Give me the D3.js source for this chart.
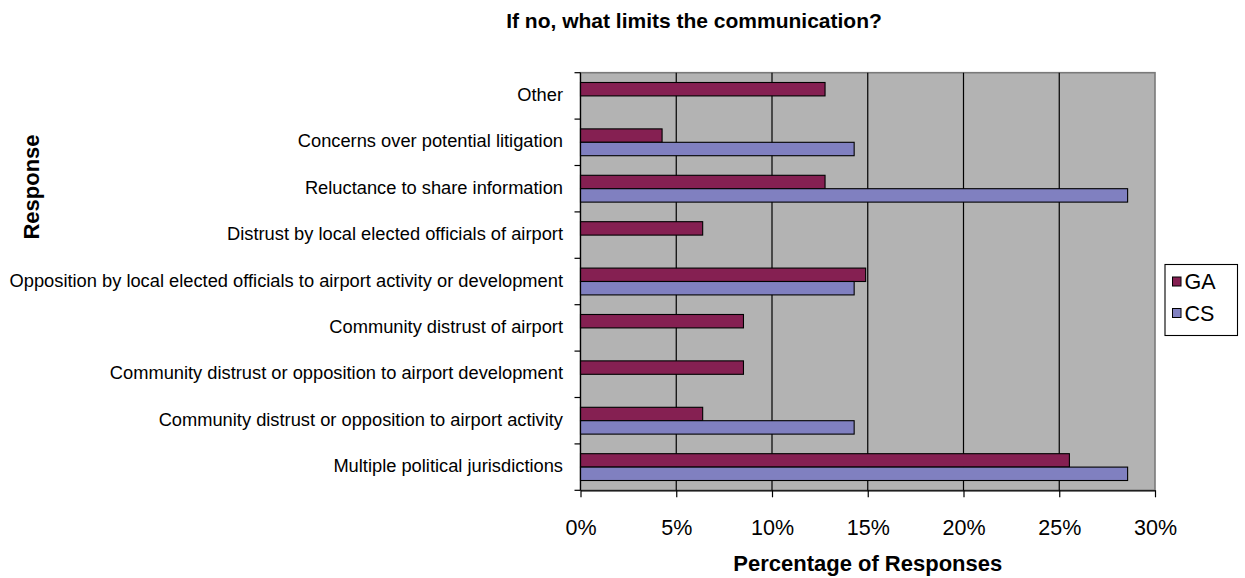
<!DOCTYPE html>
<html>
<head>
<meta charset="utf-8">
<script src="https://cdn.jsdelivr.net/npm/d3@7"></script>
<style>
  html, body { margin: 0; padding: 0; background: #fff; }
  svg { display: block; font-family: Arial, "Liberation Sans", sans-serif; }
</style>
</head>
<body>
<svg id="chart" width="1245" height="578"></svg>
<script>
// Responses, listed top to bottom
const categories = [
  "Other",
  "Concerns over potential litigation",
  "Reluctance to share information",
  "Distrust by local elected officials of airport",
  "Opposition by local elected officials to airport activity or development",
  "Community distrust of airport",
  "Community distrust or opposition to airport development",
  "Community distrust or opposition to airport activity",
  "Multiple political jurisdictions"
];
const seriesNames = ["GA", "CS"];
// Percentage of responses per series
const gaValues = [12.77, 4.26, 12.77, 6.38, 14.89, 8.51, 8.51, 6.38, 25.53];
const csValues = [0, 14.29, 28.57, 0, 14.29, 0, 0, 14.29, 28.57];
const xTicks = [0, 5, 10, 15, 20, 25, 30];
const xTickLabels = ["0%", "5%", "10%", "15%", "20%", "25%", "30%"];
const colors = { GA: "#852052", CS: "#8080c0" };

const svg = d3.select("#chart");
const plot = { left: 580.5, right: 1155, top: 72.7, bottom: 490.3 };

const x = d3.scaleLinear().domain([0, 30]).range([plot.left, plot.right]);
const y = d3.scaleBand().domain(categories).range([plot.top, plot.bottom]).padding(0);
const sub = d3.scaleBand().domain(seriesNames).range([0, y.bandwidth()])
  .paddingInner(0).paddingOuter(0.73);

// plot background
svg.append("rect")
  .attr("x", plot.left).attr("y", plot.top)
  .attr("width", plot.right - plot.left).attr("height", plot.bottom - plot.top)
  .attr("fill", "#b3b3b3").attr("stroke", "#7a7a7a").attr("stroke-width", 1.6);

// vertical gridlines
svg.append("g").selectAll("line")
  .data(xTicks.filter(t => t > 0 && t < 30))
  .join("line")
  .attr("x1", d => x(d)).attr("x2", d => x(d))
  .attr("y1", plot.top).attr("y2", plot.bottom)
  .attr("stroke", "#000").attr("stroke-width", 1.2);

// bars
const rows = categories.map((c, i) => ({ cat: c, GA: gaValues[i], CS: csValues[i] }));
const groups = svg.append("g").selectAll("g")
  .data(rows).join("g")
  .attr("transform", d => `translate(0,${y(d.cat)})`);
groups.selectAll("rect")
  .data(d => seriesNames.map(k => ({ key: k, value: d[k] })).filter(e => e.value > 0))
  .join("rect")
  .attr("x", x(0))
  .attr("y", d => sub(d.key))
  .attr("width", d => x(d.value) - x(0))
  .attr("height", sub.bandwidth())
  .attr("fill", d => colors[d.key])
  .attr("stroke", "#000").attr("stroke-width", 1.1);

// x axis
const xAxis = d3.axisBottom(x).tickValues(xTicks)
  .tickFormat((d, i) => xTickLabels[i]).tickSize(7).tickSizeOuter(0).tickPadding(22);
const gx = svg.append("g").attr("transform", `translate(0,${plot.bottom})`).call(xAxis);
gx.select(".domain").attr("stroke", "#000").attr("stroke-width", 1.2);
gx.selectAll(".tick line").attr("stroke", "#000").attr("stroke-width", 1.2);
gx.selectAll(".tick text").attr("font-size", 21.5).attr("fill", "#000")
  .attr("font-family", 'Arial, "Liberation Sans", sans-serif');

// y axis line and boundary ticks
svg.append("line")
  .attr("x1", plot.left).attr("x2", plot.left)
  .attr("y1", plot.top).attr("y2", plot.bottom)
  .attr("stroke", "#000").attr("stroke-width", 1.2);
const boundaries = categories.map(c => y(c)).concat([plot.bottom]);
svg.append("g").selectAll("line").data(boundaries).join("line")
  .attr("x1", plot.left - 6).attr("x2", plot.left)
  .attr("y1", d => d).attr("y2", d => d)
  .attr("stroke", "#000").attr("stroke-width", 1.2);

// category labels
svg.append("g").selectAll("text").data(categories).join("text")
  .attr("x", 563)
  .attr("y", d => y(d) + y.bandwidth() / 2 + 5)
  .attr("text-anchor", "end")
  .attr("font-size", 18.3)
  .attr("fill", "#000")
  .text(d => d);

// title
svg.append("text")
  .attr("x", 694).attr("y", 28)
  .attr("text-anchor", "middle")
  .attr("font-size", 21).attr("font-weight", "bold")
  .text("If no, what limits the communication?");

// axis titles
svg.append("text")
  .attr("x", (plot.left + plot.right) / 2).attr("y", 571)
  .attr("text-anchor", "middle")
  .attr("font-size", 22).attr("font-weight", "bold")
  .text("Percentage of Responses");

svg.append("text")
  .attr("transform", "translate(39,187) rotate(-90)")
  .attr("text-anchor", "middle")
  .attr("font-size", 22).attr("font-weight", "bold")
  .text("Response");

// legend
const legend = svg.append("g");
legend.append("rect")
  .attr("x", 1165).attr("y", 264.5).attr("width", 72.5).attr("height", 71)
  .attr("fill", "#fff").attr("stroke", "#000").attr("stroke-width", 1.1);
const legendY = d3.scalePoint().domain(seriesNames).range([281.5, 313]);
const items = legend.selectAll("g.item").data(seriesNames).join("g")
  .attr("class", "item")
  .attr("transform", d => `translate(0,${legendY(d)})`);
items.append("rect")
  .attr("x", 1172.5).attr("y", -4.5).attr("width", 8.5).attr("height", 9)
  .attr("fill", d => colors[d]).attr("stroke", "#000").attr("stroke-width", 1);
items.append("text")
  .attr("x", 1184.5).attr("y", 7.8)
  .attr("font-size", 21.5)
  .text(d => d);
</script>
</body>
</html>
